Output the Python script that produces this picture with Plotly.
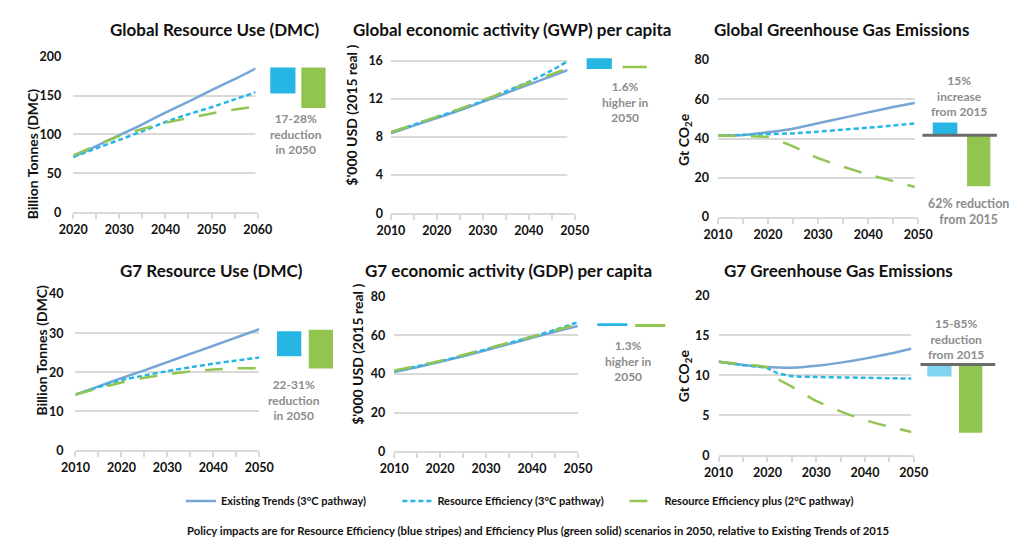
import plotly.graph_objects as go

W, H = 1017, 545

# ---------------- DATA ----------------
GLOBAL_DMC_YEARS = [2020, 2025, 2030, 2035, 2040, 2045, 2050, 2055, 2060]
GLOBAL_DMC_EXISTING = [71, 85, 99, 113, 128, 142, 157, 171, 186]
GLOBAL_DMC_RE = [71, 82, 93, 104, 116, 126, 135, 145, 155]
GLOBAL_DMC_PLUS = [73, 86, 98, 107, 115, 121, 127, 132, 136]
GLOBAL_DMC_BAR_LOW = [152.5, 133.8]
GLOBAL_DMC_BAR_HIGH = [186, 186]

GLOBAL_GWP_YEARS = [2010, 2015, 2020, 2025, 2030, 2035, 2040, 2045, 2050]
GLOBAL_GWP_EXISTING = [8.4, 9.2, 10.0, 10.8, 11.7, 12.6, 13.5, 14.4, 15.3]
GLOBAL_GWP_RE = [8.5, 9.3, 10.1, 10.9, 11.8, 12.8, 13.8, 15.0, 16.4]
GLOBAL_GWP_PLUS = [8.5, 9.3, 10.15, 10.95, 11.85, 12.8, 13.7, 14.6, 15.5]
GLOBAL_GWP_BAR_LOW = [15.15, 15.22]
GLOBAL_GWP_BAR_HIGH = [16.27, 15.49]

GLOBAL_GHG_YEARS = [2010, 2015, 2020, 2025, 2030, 2035, 2040, 2045, 2050]
GLOBAL_GHG_EXISTING = [41.5, 41.8, 43.2, 45.0, 47.8, 50.5, 53.3, 56.0, 58.5]
GLOBAL_GHG_RE = [41.5, 41.8, 42.2, 42.6, 43.5, 44.5, 45.5, 46.6, 47.8]
GLOBAL_GHG_PLUS = [41.5, 41.2, 40.7, 36.0, 30.0, 25.6, 21.7, 18.3, 14.9]
GLOBAL_GHG_BASE_2015 = [41.6]
GLOBAL_GHG_BAR_LOW = [41.6, 15.7]
GLOBAL_GHG_BAR_HIGH = [48.2, 41.6]

G7_DMC_YEARS = [2010, 2015, 2020, 2025, 2030, 2035, 2040, 2045, 2050]
G7_DMC_EXISTING = [14.3, 16.4, 18.5, 20.5, 22.6, 24.7, 26.8, 28.9, 31.0]
G7_DMC_RE = [14.3, 16.2, 18.0, 19.2, 20.3, 21.3, 22.2, 23.0, 23.8]
G7_DMC_PLUS = [14.3, 15.9, 17.4, 18.6, 19.5, 20.2, 20.7, 21.0, 21.0]
G7_DMC_BAR_LOW = [24.1, 21.0]
G7_DMC_BAR_HIGH = [30.5, 30.9]

G7_GDP_YEARS = [2010, 2015, 2020, 2025, 2030, 2035, 2040, 2045, 2050]
G7_GDP_EXISTING = [41.0, 43.5, 46.3, 49.2, 52.3, 55.5, 58.7, 61.8, 64.8]
G7_GDP_RE = [41.5, 44.0, 46.6, 49.6, 52.8, 56.0, 59.3, 62.8, 66.8]
G7_GDP_PLUS = [41.8, 44.2, 46.8, 49.8, 53.0, 56.2, 59.3, 62.5, 65.8]
G7_GDP_BAR_LOW = [64.8, 64.3]
G7_GDP_BAR_HIGH = [66.3, 65.8]

G7_GHG_YEARS = [2010, 2015, 2020, 2022, 2025, 2030, 2035, 2040, 2045, 2050]
G7_GHG_EXISTING = [11.7, 11.3, 11.05, 11.0, 10.95, 11.2, 11.6, 12.1, 12.7, 13.4]
G7_GHG_RE = [11.7, 11.3, 10.9, 10.3, 9.9, 9.8, 9.75, 9.7, 9.65, 9.6]
G7_GHG_PLUS = [11.7, 11.4, 11.0, 9.6, 8.6, 6.8, 5.5, 4.4, 3.6, 2.85]
G7_GHG_BASE_2015 = [11.35]
G7_GHG_BAR_LOW = [9.85, 2.84]
G7_GHG_BAR_HIGH = [11.35, 11.35]

SERIES_NAMES = ["Existing Trends (3\u00b0C pathway)",
                "Resource Efficiency (3\u00b0C pathway)",
                "Resource Efficiency plus (2\u00b0C pathway)"]

TITLES = ["Global Resource Use (DMC)", "Global economic activity (GWP) per capita",
          "Global Greenhouse Gas Emissions", "G7 Resource Use (DMC)",
          "G7 economic activity (GDP) per capita", "G7 Greenhouse Gas Emissions"]
YTITLES = ["Billion Tonnes (DMC)", "$'000 USD (2015 real )", "Gt CO<sub>2</sub>e",
           "Billion Tonnes (DMC)", "$'000 USD (2015 real )", "Gt CO<sub>2</sub>e"]
NOTES = ["17-28%<br>reduction<br>in 2050", "1.6%<br>higher in<br>2050",
         "15%<br>increase<br>from 2015", "22-31%<br>reduction<br>in 2050",
         "1.3%<br>higher in<br>2050", "15-85%<br>reduction<br>from 2015"]
NOTE_EXTRA = "62% reduction<br>from 2015"
FOOTER = ("Policy impacts are for Resource Efficiency (blue stripes) and Efficiency Plus "
          "(green solid) scenarios in 2050, relative to Existing Trends of 2015")

# ---------------- STYLE ----------------
C_EXIST = "#77a5d6"
C_RE = "#29b6e6"
C_PLUS = "#92c553"
C_BLUE = "#27b6e4"
C_BLUE_LIGHT = "#80d3f1"
C_GREEN = "#92c550"
GRID = "#d9d9d9"
TXT = "#111111"
NOTE_C = "#8c8c8c"
FONT = "Lato"


def X(p):
    return p / W


def Y(p):
    return 1 - p / H


panels = [
    dict(years=GLOBAL_DMC_YEARS, ser=[GLOBAL_DMC_EXISTING, GLOBAL_DMC_RE, GLOBAL_DMC_PLUS],
         bars=(GLOBAL_DMC_BAR_LOW, GLOBAL_DMC_BAR_HIGH), base=None,
         px=(60, 250), py0=210, unit=0.8, yr=(0, 200), dy=50,
         ind=dict(c0=276, sp=31.5, w=[26, 25], lo=-0.9, hi=1.9), bcol=[C_BLUE, C_GREEN],
         title=(206, 22), ytitle=(18, 150), note=(290, 130), so=11),
    dict(years=GLOBAL_GWP_YEARS, ser=[GLOBAL_GWP_EXISTING, GLOBAL_GWP_RE, GLOBAL_GWP_PLUS],
         bars=(GLOBAL_GWP_BAR_LOW, GLOBAL_GWP_BAR_HIGH), base=None,
         px=(387.3, 576.7), py0=211, unit=9.79, yr=(0, 17), dy=4,
         ind=dict(c0=602, sp=36.5, w=[26, 25], lo=-0.9, hi=1.9), bcol=[C_BLUE, C_GREEN],
         title=(512, 22), ytitle=(347, 110), note=(629, 97), so=7),
    dict(years=GLOBAL_GHG_YEARS, ser=[GLOBAL_GHG_EXISTING, GLOBAL_GHG_RE, GLOBAL_GHG_PLUS],
         bars=(GLOBAL_GHG_BAR_LOW, GLOBAL_GHG_BAR_HIGH), base=GLOBAL_GHG_BASE_2015,
         px=(724.3, 930.7), py0=215, unit=2.02, yr=(0, 80), dy=20,
         ind=dict(c0=958.3, sp=34.7, w=[25.3, 24], lo=-0.9, hi=1.6, gl=(935, 1011.7)),
         bcol=[C_BLUE, C_GREEN],
         title=(852, 22), ytitle=(690, 135), note=(973, 91), so=8),
    dict(years=G7_DMC_YEARS, ser=[G7_DMC_EXISTING, G7_DMC_RE, G7_DMC_PLUS],
         bars=(G7_DMC_BAR_LOW, G7_DMC_BAR_HIGH), base=None,
         px=(62.3, 251.7), py0=455, unit=4.02, yr=(0, 40), dy=10,
         ind=dict(c0=282.5, sp=32.7, w=[25, 25], lo=-0.9, hi=1.9), bcol=[C_BLUE, C_GREEN],
         title=(202, 270), ytitle=(27, 352), note=(287, 403), so=11),
    dict(years=G7_GDP_YEARS, ser=[G7_GDP_EXISTING, G7_GDP_RE, G7_GDP_PLUS],
         bars=(G7_GDP_BAR_LOW, G7_GDP_BAR_HIGH), base=None,
         px=(390.7, 580), py0=456, unit=1.99, yr=(0, 80), dy=20,
         ind=dict(c0=615.5, sp=39, w=[31, 31], lo=-0.9, hi=1.9), bcol=[C_BLUE, C_GREEN],
         title=(508, 270), ytitle=(353, 356), note=(632, 363), so=8),
    dict(years=G7_GHG_YEARS, ser=[G7_GHG_EXISTING, G7_GHG_RE, G7_GHG_PLUS],
         bars=(G7_GHG_BAR_LOW, G7_GHG_BAR_HIGH), base=G7_GHG_BASE_2015,
         px=(725, 926), py0=460, unit=8.22, yr=(0, 20), dy=5,
         ind=dict(c0=952.5, sp=32.2, w=[25, 24], lo=-0.9, hi=1.85, gl=(933, 1010)),
         bcol=[C_BLUE_LIGHT, C_GREEN],
         title=(849, 270), ytitle=(690, 378), note=(970, 340), so=8),
]

fig = go.Figure()
layout = {}
annotations = []
shapes = []

line_styles = [
    dict(color=C_EXIST, width=2.5),
    dict(color=C_RE, width=2.5, dash="5px,3px"),
    dict(color=C_PLUS, width=2.5, dash="18px,15px"),
]
legend_ids = ["legend", "legend2", "legend3"]
legend_x_px = [171, 394, 628]

for i, p in enumerate(panels):
    n = i + 1
    sfx = "" if n == 1 else str(n)
    ytop_px = p["py0"] - (p["yr"][1] - p["yr"][0]) * p["unit"]
    ydom = [Y(p["py0"]), Y(ytop_px)]
    xdom = [X(p["px"][0]), X(p["px"][1])]
    y0, y1 = p["years"][0], p["years"][-1]
    layout["xaxis" + sfx] = dict(
        domain=xdom, anchor="y" + sfx, range=[y0, y1], tick0=y0, dtick=10,
        showgrid=False, zeroline=False, showline=True, linecolor=GRID, linewidth=1.5,
        ticks="outside", ticklen=5, tickcolor=GRID, tickwidth=1.5,
        minor=dict(tick0=y0, dtick=5, ticks="outside", ticklen=5, tickcolor=GRID,
                   tickwidth=1.5, showgrid=False),
        tickfont=dict(family=FONT, size=12.5, color=TXT, weight="bold"),
        fixedrange=True)
    layout["yaxis" + sfx] = dict(
        domain=ydom, anchor="x" + sfx, range=list(p["yr"]), tick0=0, dtick=p["dy"],
        showgrid=True, gridcolor=GRID, gridwidth=1.5, zeroline=False, showline=False,
        ticks="", ticklabelstandoff=p["so"],
        tickfont=dict(family=FONT, size=12.5, color=TXT, weight="bold"),
        fixedrange=True)

    for k, s in enumerate(p["ser"]):
        fig.add_trace(go.Scatter(
            x=p["years"], y=s, mode="lines", name=SERIES_NAMES[k],
            line=dict(**line_styles[k], shape="spline", smoothing=0.5),
            xaxis="x" + sfx, yaxis="y" + sfx, showlegend=(i == 0),
            legend=legend_ids[k], hoverinfo="skip"))

    ind = p["ind"]
    m = n + 6
    a = ind["c0"] + ind["lo"] * ind["sp"]
    b = a + (ind["hi"] - ind["lo"]) * ind["sp"]
    layout["xaxis" + str(m)] = dict(domain=[X(a), X(b)], anchor="y" + str(m),
                                    range=[ind["lo"], ind["hi"]], visible=False, fixedrange=True)
    layout["yaxis" + str(m)] = dict(domain=ydom, anchor="x" + str(m), range=list(p["yr"]),
                                    visible=False, fixedrange=True)
    low, high = p["bars"]
    fig.add_trace(go.Bar(
        x=[0, 1], y=[h - l for l, h in zip(low, high)], base=low,
        width=[w / ind["sp"] for w in ind["w"]], marker=dict(color=p["bcol"], line=dict(width=0)),
        xaxis="x" + str(m), yaxis="y" + str(m), showlegend=False, hoverinfo="skip"))
    if p["base"] is not None:
        g0, g1 = ind["gl"]
        shapes.append(dict(type="line", xref="x" + str(m), yref="y" + str(m),
                           x0=(g0 - a) / ind["sp"] + ind["lo"], x1=(g1 - a) / ind["sp"] + ind["lo"],
                           y0=p["base"][0], y1=p["base"][0], layer="above",
                           line=dict(color="#6b6b6b", width=3)))

    annotations.append(dict(text="<b>" + TITLES[i] + "</b>", x=X(p["title"][0]), y=Y(p["title"][1]),
                            xref="paper", yref="paper", showarrow=False, xanchor="center", yanchor="middle",
                            font=dict(family=FONT, size=17, color=TXT)))
    annotations.append(dict(text="<b>" + YTITLES[i] + "</b>", x=X(p["ytitle"][0]), y=Y(p["ytitle"][1]),
                            xref="paper", yref="paper", showarrow=False, textangle=-90,
                            xanchor="center", yanchor="middle",
                            font=dict(family=FONT, size=14, color=TXT)))
    annotations.append(dict(text="<b>" + NOTES[i] + "</b>", x=X(p["note"][0]), y=Y(p["note"][1]),
                            xref="paper", yref="paper", showarrow=False, xanchor="center", yanchor="middle",
                            font=dict(family=FONT, size=12, color=NOTE_C)))

annotations.append(dict(text="<b>" + NOTE_EXTRA + "</b>", x=X(982), y=Y(209),
                        xref="paper", yref="paper", showarrow=False, xanchor="center", yanchor="middle",
                        font=dict(family=FONT, size=12.5, color=NOTE_C)))
annotations.append(dict(text="<b>" + FOOTER + "</b>", x=X(539), y=Y(537), xref="paper", yref="paper",
                        showarrow=False, xanchor="center", yanchor="middle",
                        font=dict(family=FONT, size=11.3, color=TXT)))

for lid, lx in zip(legend_ids, legend_x_px):
    layout[lid] = dict(orientation="h", x=X(lx), y=Y(507), xanchor="left", yanchor="middle",
                       font=dict(family=FONT, size=11, color=TXT, weight="bold"), itemwidth=30,
                       bgcolor="rgba(0,0,0,0)")

fig.update_layout(
    autosize=True, margin=dict(l=0, r=0, t=0, b=0),
    paper_bgcolor="white", plot_bgcolor="white",
    font=dict(family=FONT, color=TXT),
    barmode="overlay", hovermode=False,
    annotations=annotations, shapes=shapes,
    **layout)

fig.write_html(
    "out.html", config={"displayModeBar": False, "responsive": True},
    default_width="100vw", default_height="100vh",
    post_script=("document.documentElement.style.margin='0';document.body.style.margin='0';"
                 "document.body.style.overflow='hidden';"
                 "Plotly.Plots.resize(document.getElementById('{plot_id}'));"))
